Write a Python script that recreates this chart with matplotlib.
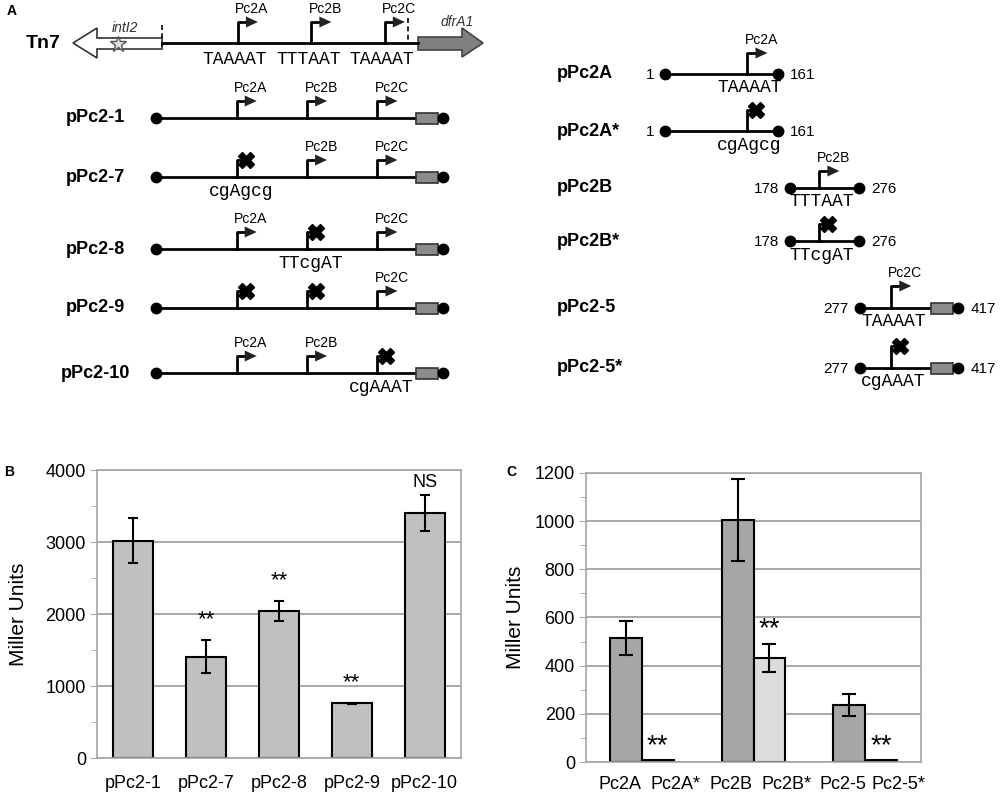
import numpy as np
import matplotlib.pyplot as plt
from matplotlib.patches import Polygon, Rectangle

plt.rcParams['font.family'] = ['Liberation Sans', 'DejaVu Sans']
plt.rcParams['font.monospace'] = ['Liberation Mono', 'DejaVu Sans Mono']

# ---- panel A data (schematic, positions in bp) ----
promoters = ['Pc2A', 'Pc2B', 'Pc2C']
promoter_bp = [118, 220, 322]
wt_boxes = ['TAAAAT', 'TTTAAT', 'TAAAAT']
box_bp = [378, 410]

left_names = ['pPc2-1', 'pPc2-7', 'pPc2-8', 'pPc2-9', 'pPc2-10']
left_knocked = [[], ['Pc2A'], ['Pc2B'], ['Pc2A', 'Pc2B'], ['Pc2C']]
left_mut = [None, 'cgAgcg', 'TTcgAT', None, 'cgAAAT']

right_names = ['pPc2A', 'pPc2A*', 'pPc2B', 'pPc2B*', 'pPc2-5', 'pPc2-5*']
frag_start = [1, 1, 178, 178, 277, 277]
frag_end = [161, 161, 276, 276, 417, 417]
frag_prom = ['Pc2A', 'Pc2A', 'Pc2B', 'Pc2B', 'Pc2C', 'Pc2C']
frag_mut = [None, 'cgAgcg', None, 'TTcgAT', None, 'cgAAAT']

# ---- panel B data ----
b_labels = ['pPc2-1', 'pPc2-7', 'pPc2-8', 'pPc2-9', 'pPc2-10']
b_vals = [3020, 1410, 2045, 758, 3400]
b_err = [315, 230, 135, 12, 250]
b_sig = ['', '**', '**', '**', 'NS']

# ---- panel C data ----
c_groups = ['Pc2A', 'Pc2B', 'Pc2-5']
c_wt = [515, 1006, 235]
c_wt_err = [70, 170, 46]
c_mut = [7, 432, 7]
c_mut_err = [0, 60, 0]
c_labels = ['Pc2A', 'Pc2A*', 'Pc2B', 'Pc2B*', 'Pc2-5', 'Pc2-5*']

fig = plt.figure(figsize=(10, 7.96), dpi=100)

# panel A drawn in pixel coordinates
axA = fig.add_axes([0, 0, 1, 1])
axA.set_xlim(0, 1000)
axA.set_ylim(796, 0)
axA.axis('off')

seq_font = dict(family='monospace', fontsize=13, ha='center', va='center')


def bp_left(bp):
    return 156 + 0.69 * (bp - 1)


def bp_right(bp):
    return 665 + 0.705 * (bp - 1)


def bp_tn7(bp):
    return 153 + 0.72 * bp


def promoter(x, y, h, name=None, knocked=False):
    top = y - h
    if knocked:
        axA.plot([x, x, x + 6], [y, top, top], color='k', lw=2, zorder=3)
        axA.plot(x + 9, top, marker='X', ms=12, color='k', mec='k', zorder=4)
    else:
        axA.plot([x, x, x + 9], [y, top, top], color='k', lw=2, zorder=3)
        axA.add_patch(Polygon([[x + 8, top - 5.5], [x + 8, top + 5.5], [x + 20, top]],
                              closed=True, fc='#222222', ec='none', zorder=3))
        if name:
            axA.text(x + 14, top - 13, name, ha='center', va='center', fontsize=10)


def construct(y, x0, x1, box=None):
    axA.plot([x0, x1], [y, y], color='k', lw=2, zorder=2)
    if box:
        axA.add_patch(Rectangle((box[0], y - 5.5), box[1] - box[0], 11, fc='#8c8c8c',
                                ec='#333333', lw=1.2, zorder=3))
    axA.plot([x0, x1], [y, y], 'o', color='k', ms=7.5, zorder=4)


axA.text(12, 11, 'A', fontsize=10, fontweight='bold', ha='center', va='center')

# Tn7 row
y = 43
axA.text(43, y, 'Tn7', fontsize=14, fontweight='bold', ha='center', va='center')
axA.add_patch(Polygon([[73, y], [97, y - 15], [97, y - 5], [162, y - 5], [162, y + 6],
                       [97, y + 6], [97, y + 15]], closed=True, fc='white', ec='#333', lw=1.2))
axA.plot(118, y + 1, marker='*', ms=12, mfc='#e0e0e0', mec='#555', mew=1)
axA.text(125, 28, 'intI2', fontsize=10, style='italic', ha='center', va='center', color='#333')
axA.plot([162, 418], [y, y], color='k', lw=2, zorder=2)
axA.plot([162, 162], [y - 18, y + 6], color='k', lw=1.2, ls=(0, (3, 2)))
axA.plot([408, 408], [y - 25, y], color='k', lw=1.2, ls=(0, (3, 2)))
axA.add_patch(Polygon([[418, y - 6], [462, y - 6], [462, y - 15], [483, y], [462, y + 14],
                       [462, y + 7], [418, y + 7]], closed=True, fc='#808080', ec='#444', lw=1.2))
axA.text(457, 22, 'dfrA1', fontsize=10, style='italic', ha='center', va='center', color='#333')
for p, bp, seq in zip(promoters, promoter_bp, wt_boxes):
    x = bp_tn7(bp)
    promoter(x, y, 21, p)
    axA.text(x - 3, y + 17, seq, **seq_font)

# left constructs
left_y = [118, 177, 249, 308, 373]
for name, ko, mut, y in zip(left_names, left_knocked, left_mut, left_y):
    axA.text(95, y, name, fontsize=13, fontweight='bold', ha='center', va='center')
    construct(y, bp_left(1), bp_left(417), (bp_left(box_bp[0]), bp_left(box_bp[1])))
    for p, bp in zip(promoters, promoter_bp):
        promoter(bp_left(bp), y, 17, p, knocked=p in ko)
        if p in ko and mut:
            axA.text(bp_left(bp) + 4, y + 14, mut, **seq_font)

# right constructs (fragments)
right_y = [74, 131, 188, 241, 308, 368]
right_h = [21, 21, 17, 17, 22, 22]
for i, name in enumerate(right_names):
    y = right_y[i]
    axA.text(557, y, name, fontsize=13, fontweight='bold', ha='left', va='center')
    x0, x1 = bp_right(frag_start[i]), bp_right(frag_end[i])
    box = (bp_right(box_bp[0]), bp_right(box_bp[1])) if frag_end[i] == 417 else None
    construct(y, x0, x1, box)
    axA.text(x0 - 11, y + 1, str(frag_start[i]), fontsize=11, ha='right', va='center')
    axA.text(x1 + 12, y + 1, str(frag_end[i]), fontsize=11, ha='left', va='center')
    k = promoters.index(frag_prom[i])
    xp = bp_right(promoter_bp[k])
    promoter(xp, y, right_h[i], frag_prom[i], knocked=frag_mut[i] is not None)
    seq = frag_mut[i] if frag_mut[i] else wt_boxes[k]
    axA.text(xp + 2, y + 14, seq, **seq_font)


def style_axes(ax, ymax, major, minor):
    ax.set_ylim(0, ymax)
    ax.set_yticks(np.arange(0, ymax + 1, major))
    ax.set_yticks(np.arange(0, ymax + 1, minor), minor=True)
    ax.yaxis.grid(True, color='#9a9a9a', lw=1.2)
    ax.set_axisbelow(True)
    for s in ax.spines.values():
        s.set_color('#a6a6a6')
        s.set_linewidth(1.2)
    ax.tick_params(axis='y', which='both', direction='out', color='#a6a6a6', labelsize=13, pad=3)
    ax.tick_params(axis='y', which='major', length=5)
    ax.tick_params(axis='y', which='minor', length=4)
    ax.tick_params(axis='x', length=0, labelsize=13, pad=12)
    ax.set_ylabel('Miller Units', fontsize=15)


# ---- panel B ----
axB = fig.add_axes([0.097, 0.0477, 0.364, 0.3618])
xb = np.arange(len(b_labels))
axB.bar(xb, b_vals, width=0.55, color='#c0c0c0', edgecolor='k', lw=1.5, zorder=2)
axB.errorbar(xb, b_vals, yerr=b_err, fmt='none', ecolor='k', elinewidth=1.5, capsize=3.5,
             capthick=1.5, zorder=3)
axB.set_xlim(-0.5, len(b_labels) - 0.5)
axB.set_xticks(xb)
axB.set_xticklabels(b_labels)
style_axes(axB, 4000, 1000, 500)
axB.yaxis.set_label_coords(-0.19, 0.5)
for i, s in enumerate(b_sig):
    if s:
        off = 7 if s == '**' else 3
        axB.annotate(s, (xb[i], b_vals[i] + b_err[i]), xytext=(0, off), textcoords='offset points',
                     ha='center', va='bottom', fontsize=16 if s == '**' else 13)
fig.text(0.009, 1 - 472 / 796, 'B', fontsize=10, fontweight='bold', ha='center', va='center')

# ---- panel C ----
axC = fig.add_axes([0.586, 0.0427, 0.335, 0.3631])
xc = np.arange(len(c_groups))
w = 0.284
axC.bar(xc - w / 2, c_wt, width=w, color='#a6a6a6', edgecolor='k', lw=1.5, zorder=2)
axC.bar(xc + w / 2, c_mut, width=w, color=['#1a1a1a', '#dcdcdc', '#1a1a1a'], edgecolor='k',
        lw=1.5, zorder=2)
axC.errorbar(xc - w / 2, c_wt, yerr=c_wt_err, fmt='none', ecolor='k', elinewidth=1.5,
             capsize=5, capthick=1.5, zorder=3)
axC.errorbar((xc + w / 2)[1:2], c_mut[1:2], yerr=c_mut_err[1:2], fmt='none', ecolor='k',
             elinewidth=1.5, capsize=5, capthick=1.5, zorder=3)
axC.set_xlim(-0.5, len(c_groups) - 0.5)
# labels spread evenly under the bars, as in the original
pos = -0.5 + (np.arange(len(c_labels)) + 0.5) * len(c_groups) / len(c_labels) + 0.05
axC.set_xticks(pos)
axC.set_xticklabels(c_labels)
style_axes(axC, 1200, 200, 100)
axC.tick_params(axis='x', pad=10)
axC.yaxis.set_label_coords(-0.182, 0.5)
for i in range(len(c_groups)):
    axC.annotate('**', (xc[i] + w / 2, c_mut[i] + c_mut_err[i]), xytext=(0, 1),
                 textcoords='offset points', ha='center', va='bottom', fontsize=20)
fig.text(0.511, 1 - 472 / 796, 'C', fontsize=10, fontweight='bold', ha='center', va='center')

fig.savefig('out.png', dpi=100)
